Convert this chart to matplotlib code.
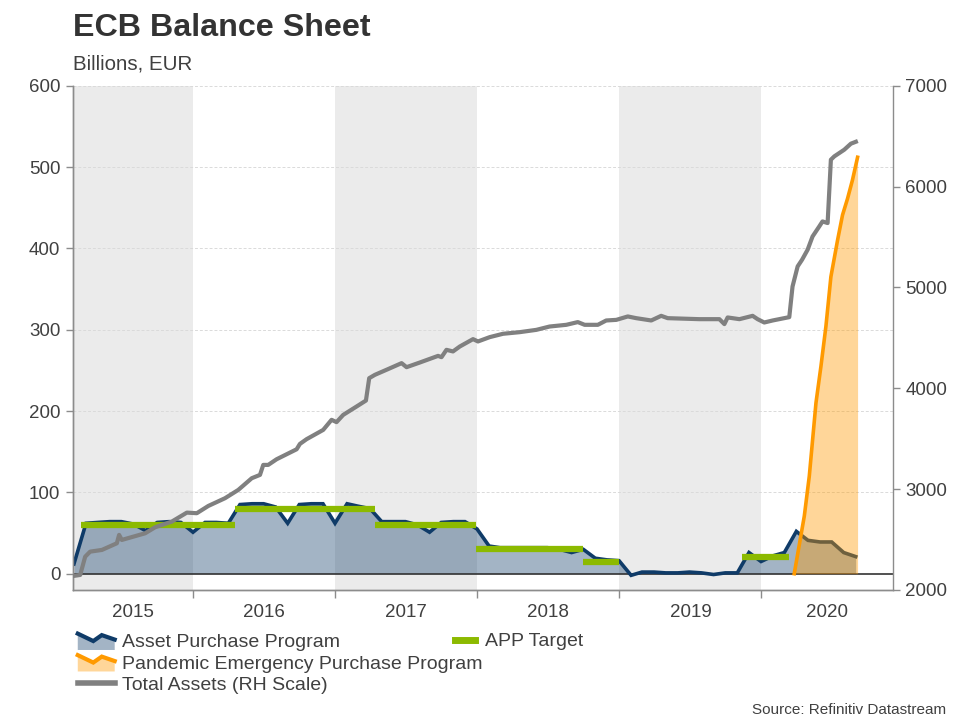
import numpy as np
import pandas as pd
import matplotlib
matplotlib.use('Agg')
import matplotlib.pyplot as plt
from matplotlib.legend_handler import HandlerBase
from matplotlib.patches import Polygon
from matplotlib.lines import Line2D

plt.rcParams['font.family'] = ['Liberation Sans', 'DejaVu Sans']

# ---- data ----
# monthly net APP purchases, month ends Feb 2015 .. Aug 2020, bn EUR
app_months = pd.date_range('2015-02-28', '2020-08-31', freq='ME')
app_values = [12, 62, 63, 64, 64, 61, 53, 63, 64, 63, 51,
              63, 63, 62, 85, 86, 86, 82, 62, 85, 86, 86, 62,
              86, 83, 80, 64, 64, 64, 60, 51, 63, 64, 64, 55,
              34, 32, 32, 32, 32, 32, 30, 26, 30, 19, 17, 16,
              -2, 2, 2, 1, 1, 2, 1, -1, 1, 1, 26, 15,
              22, 26, 52, 41, 39, 39, 26, 21]

# PEPP cumulative purchases (weekly), decimal years / bn EUR
pepp_year = [2020.231, 2020.302, 2020.337, 2020.384, 2020.419, 2020.454,
             2020.489, 2020.536, 2020.571, 2020.606, 2020.641, 2020.677]
pepp_values = [0, 71, 120, 210, 255, 304, 365, 410, 441, 461, 484, 512]

# APP monthly target
target_start = [2015.208, 2016.293, 2017.278, 2017.988, 2018.743, 2019.864]
target_end = [2016.293, 2017.278, 2017.988, 2018.743, 2018.996, 2020.196]
target_value = [60, 80, 60, 30, 15, 20]

# ECB total assets, bn EUR (right scale)
ta_year = [2015.156, 2015.203, 2015.238, 2015.273, 2015.356, 2015.461, 2015.477,
           2015.496, 2015.660, 2015.731, 2015.848, 2015.954, 2016.024, 2016.105,
           2016.223, 2016.316, 2016.411, 2016.469, 2016.492, 2016.527, 2016.586,
           2016.727, 2016.750, 2016.797, 2016.914, 2016.973, 2017.008, 2017.055,
           2017.149, 2017.215, 2017.238, 2017.278, 2017.371, 2017.466, 2017.501,
           2017.594, 2017.723, 2017.747, 2017.782, 2017.828, 2017.876, 2017.969,
           2018.004, 2018.087, 2018.180, 2018.297, 2018.415, 2018.508, 2018.626,
           2018.707, 2018.755, 2018.848, 2018.907, 2018.978, 2019.059, 2019.118,
           2019.224, 2019.294, 2019.340, 2019.563, 2019.704, 2019.739, 2019.762,
           2019.845, 2019.938, 2019.973, 2020.020, 2020.079, 2020.196, 2020.219,
           2020.255, 2020.286, 2020.325, 2020.360, 2020.407, 2020.430, 2020.466,
           2020.489, 2020.513, 2020.583, 2020.630, 2020.665]
ta_values = [2139, 2149, 2330, 2380, 2397, 2463, 2546,
             2496, 2562, 2622, 2678, 2767, 2761, 2833,
             2910, 2992, 3108, 3141, 3240, 3240, 3296,
             3395, 3448, 3495, 3587, 3687, 3664, 3736,
             3819, 3878, 4100, 4133, 4190, 4249, 4209,
             4255, 4321, 4308, 4381, 4365, 4414, 4487,
             4464, 4507, 4540, 4556, 4579, 4612, 4629,
             4656, 4629, 4629, 4672, 4678, 4712, 4695,
             4672, 4718, 4695, 4685, 4685, 4636, 4702,
             4685, 4718, 4685, 4652, 4672, 4705, 5009,
             5208, 5274, 5373, 5505, 5604, 5654, 5638,
             6266, 6299, 6365, 6425, 6444]

years = [2015, 2016, 2017, 2018, 2019, 2020]
shaded_years = [2015, 2017, 2019]


def decimal_year(d):
    d = pd.DatetimeIndex(d)
    days = np.where(d.is_leap_year, 366, 365)
    return d.year + (d.dayofyear - 1) / days


app_year = decimal_year(app_months)

# ---- colours ----
NAVY = '#0f3b68'
ORANGE = '#ff9a00'
GREEN = '#8cba00'
GREY = '#808080'
TXT = '#404040'
AX = '#8c8c8c'

fig = plt.figure(figsize=(9.6, 7.2), dpi=100)
ax = fig.add_axes([0.076, 0.1806, 0.854, 0.7004])
x0, x1 = 2015.152, 2020.925
ax.set_xlim(x0, x1)
ax.set_ylim(-20, 600)

for y in shaded_years:
    ax.axvspan(y, y + 1, color='#ebebeb', lw=0, zorder=0)

for v in range(100, 601, 100):
    ax.axhline(v, color='#dadada', lw=0.7, ls=(0, (3, 2)), zorder=0.5)
ax.axhline(0, color='#333333', lw=1.2, zorder=2.5)

app_fill = ax.fill_between(app_year, app_values, 0, color=NAVY, alpha=0.38,
                           lw=0, zorder=2)
ax.plot(app_year, app_values, color=NAVY, lw=2.6, zorder=3,
        solid_joinstyle='miter')
pepp_fill = ax.fill_between(pepp_year, pepp_values, 0, color=ORANGE,
                            alpha=0.4, lw=0, zorder=4)
ax.plot(pepp_year, pepp_values, color=ORANGE, lw=2.6, zorder=5)
tgt = ax.hlines(target_value, target_start, target_end, color=GREEN, lw=4.5,
                zorder=6)

ax2 = ax.twinx()
ax2.set_ylim(2000, 7000)
ax2.set_yticks(range(2000, 7001, 1000))
ta_line, = ax2.plot(ta_year, ta_values, color=GREY, lw=3, zorder=7)

# axes styling
ax.set_yticks(range(0, 601, 100))
ax.set_xticks([2016, 2017, 2018, 2019, 2020])
ax.set_xticklabels([])
label_pos = [(max(y, x0) + min(y + 1, x1)) / 2 for y in years]
ax.set_xticks(label_pos, minor=True)
ax.set_xticklabels([str(y) for y in years], minor=True)
ax.tick_params(axis='x', which='major', length=6, color=AX, width=1)
ax.tick_params(axis='x', which='minor', length=0, pad=10, labelsize=13.5,
               labelcolor=TXT)
ax.tick_params(axis='y', length=5, color=AX, width=1, pad=4, labelsize=13.5,
               labelcolor=TXT)
ax2.tick_params(axis='y', length=5, color=AX, width=1, pad=4, labelsize=13.5,
                labelcolor=TXT)
for a in (ax, ax2):
    a.spines['top'].set_visible(False)
    for s in ('left', 'right', 'bottom'):
        a.spines[s].set_color(AX)
        a.spines[s].set_linewidth(1)
ax.spines['right'].set_visible(False)


# ---- legend ----
class ZigzagHandler(HandlerBase):
    def __init__(self, line_color, fill_color, fill_alpha):
        super().__init__()
        self.line_color = line_color
        self.fill_color = fill_color
        self.fill_alpha = fill_alpha

    def create_artists(self, legend, orig_handle, xdescent, ydescent,
                       width, height, fontsize, trans):
        xs = np.array([0, 0.42, 0.65, 1.0]) * width - xdescent
        ys = np.array([0.95, 0.45, 0.85, 0.55]) * height - ydescent
        bottom = -ydescent - 0.15 * height
        verts = np.column_stack([np.r_[xs, xs[-1], xs[0]],
                                 np.r_[ys, bottom, bottom]])
        poly = Polygon(verts, closed=True, facecolor=self.fill_color,
                       alpha=self.fill_alpha, edgecolor='none',
                       transform=trans)
        line = Line2D(xs, ys, color=self.line_color, lw=3, transform=trans,
                      solid_joinstyle='miter')
        return [poly, line]


grey_handle = Line2D([], [], color=GREY, lw=4)
leg1 = fig.legend([app_fill, pepp_fill, grey_handle],
                  ['Asset Purchase Program',
                   'Pandemic Emergency Purchase Program',
                   'Total Assets (RH Scale)'],
                  handler_map={app_fill: ZigzagHandler(NAVY, NAVY, 0.38),
                               pepp_fill: ZigzagHandler(ORANGE, ORANGE, 0.4)},
                  loc='upper left', bbox_to_anchor=(0.081, 0.121),
                  frameon=False, fontsize=14, handlelength=1.9,
                  handleheight=0.8, handletextpad=0.36, labelspacing=0.17,
                  borderpad=0, borderaxespad=0, labelcolor=TXT)
green_handle = Line2D([], [], color=GREEN, lw=5)
leg2 = fig.legend([green_handle], ['APP Target'], loc='upper left',
                  bbox_to_anchor=(0.474, 0.121), frameon=False, fontsize=14,
                  handlelength=1.05, handletextpad=0.5, borderpad=0,
                  borderaxespad=0, labelcolor=TXT)

# ---- titles ----
fig.text(0.076, 0.95, 'ECB Balance Sheet', fontsize=23.2, fontweight='bold',
         color='#333333', va='baseline')
fig.text(0.076, 0.904, 'Billions, EUR', fontsize=14.8, color=TXT,
         va='baseline')
fig.text(0.986, 0.009, 'Source: Refinitiv Datastream', fontsize=11,
         color=TXT, ha='right', va='baseline')

fig.savefig('out.png', dpi=100)
